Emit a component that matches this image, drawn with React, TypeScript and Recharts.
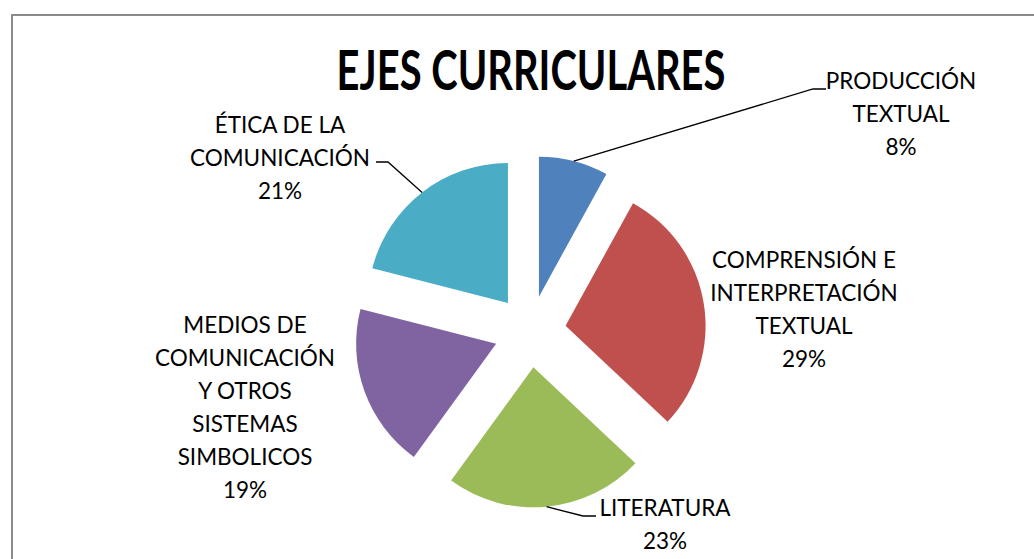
// Exploded pie of "EJES CURRICULARES" with manually placed Excel-style labels.

import React from 'react'
import { PieChart, Pie, Cell, Sector } from 'recharts'

const CATEGORIES = [
  'PRODUCCIÓN\nTEXTUAL',
  'COMPRENSIÓN E\nINTERPRETACIÓN\nTEXTUAL',
  'LITERATURA',
  'MEDIOS DE\nCOMUNICACIÓN\nY OTROS\nSISTEMAS\nSIMBOLICOS',
  'ÉTICA DE LA\nCOMUNICACIÓN',
]
const VALUES = [8, 29, 23, 19, 21]
const COLORS = ['#4f81bd', '#c0504d', '#9bbb59', '#8064a2', '#4bacc6']

const data = CATEGORIES.map((name, i) => ({ name, value: VALUES[i] }))

// label block anchor (center x, first baseline) and optional leader elbow/end
const LABEL_LAYOUT: { x: number; y: number; leader: number[][] | null }[] = [
  { x: 901, y: 89, leader: [[813, 89], [826, 89]] },
  { x: 804, y: 268, leader: null },
  { x: 665, y: 516, leader: [[583, 516], [596, 516]] },
  { x: 245, y: 333, leader: null },
  { x: 280, y: 133, leader: [[388, 162], [376, 162]] },
]

const W = 1034
const H = 559
const CX = 530
const CY = 331.5
const RADIUS = 140
const EXPLODE = 36
const LINE_H = 33
const FONT = 'Lato, "Open Sans", sans-serif'
const RAD = Math.PI / 180

function polar(cx: number, cy: number, r: number, angle: number) {
  return { x: cx + Math.cos(-angle * RAD) * r, y: cy + Math.sin(-angle * RAD) * r }
}

function renderSlice(props: any) {
  const { cx, cy, midAngle, innerRadius, outerRadius, startAngle, endAngle, fill } = props
  const c = polar(cx, cy, EXPLODE, midAngle)
  return (
    <Sector
      cx={c.x}
      cy={c.y}
      innerRadius={innerRadius}
      outerRadius={outerRadius}
      startAngle={startAngle}
      endAngle={endAngle}
      fill={fill}
      stroke="none"
    />
  )
}

function renderLabel(props: any) {
  const { cx, cy, midAngle, outerRadius, index, percent } = props
  const layout = LABEL_LAYOUT[index]
  const lines = [...CATEGORIES[index].split('\n'), `${Math.round(percent * 100)}%`]
  const edge = polar(cx, cy, EXPLODE + outerRadius, midAngle)
  return (
    <g key={`lbl-${index}`}>
      {layout.leader && (
        <polyline
          points={[[edge.x, edge.y], ...layout.leader].map((p) => p.join(',')).join(' ')}
          fill="none"
          stroke="#000"
          strokeWidth={1.3}
        />
      )}
      <text
        x={layout.x}
        y={layout.y}
        textAnchor="middle"
        fontFamily={FONT}
        fontSize={22.5}
        fill="#000"
      >
        {lines.map((l, i) => (
          <tspan key={i} x={layout.x} dy={i === 0 ? 0 : LINE_H}>
            {l}
          </tspan>
        ))}
      </text>
    </g>
  )
}

export default function App() {
  return (
    <div
      style={{
        position: 'absolute',
        left: 0,
        top: 0,
        width: W,
        height: H,
        overflow: 'hidden',
        background: '#fff',
      }}
    >
      <div
        style={{
          position: 'absolute',
          left: 11,
          top: 14,
          width: 1100,
          height: 600,
          border: '2px solid #8a8a8a',
        }}
      />
      <svg width={W} height={H} style={{ position: 'absolute', left: 0, top: 0 }}>
        {/* title squeezed horizontally to mimic a narrow bold face */}
        <text
          transform="translate(531 90) scale(0.6 1)"
          x={0}
          y={0}
          textAnchor="middle"
          fontFamily={FONT}
          fontWeight={700}
          fontSize={56}
          textLength={648}
          lengthAdjust="spacingAndGlyphs"
          fill="#000"
        >
          EJES CURRICULARES
        </text>
      </svg>
      <div style={{ position: 'absolute', left: 0, top: 0 }}>
        <PieChart width={W} height={H} margin={{ top: 0, right: 0, bottom: 0, left: 0 }}>
          <Pie
            data={data}
            dataKey="value"
            nameKey="name"
            cx={CX}
            cy={CY}
            outerRadius={RADIUS}
            startAngle={90}
            endAngle={-270}
            stroke="none"
            shape={renderSlice}
            inactiveShape={renderSlice}
            activeShape={renderSlice}
            label={renderLabel}
            labelLine={false}
            isAnimationActive={false}
          >
            {data.map((d, i) => (
              <Cell key={d.name} fill={COLORS[i]} />
            ))}
          </Pie>
        </PieChart>
      </div>
    </div>
  )
}
